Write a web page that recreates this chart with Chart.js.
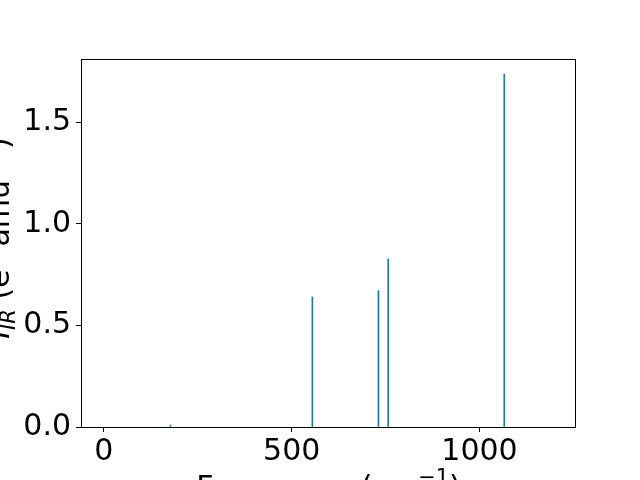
<!DOCTYPE html>
<html>
<head>
<meta charset="utf-8">
<script src="https://cdn.jsdelivr.net/npm/chart.js@4.4.1/dist/chart.umd.min.js"></script>
<style>
  html, body { margin: 0; padding: 0; background: #fff; }
</style>
</head>
<body>
<canvas id="canvas" width="640" height="480"></canvas>
<script>
// IR spectrum sticks
const freqs = [177, 555, 731, 757, 1066]
const intensities = [0.01, 0.64, 0.671, 0.827, 1.737]

const xTicks = [0, 500, 1000]
const yTicks = [0, 0.5, 1.0, 1.5]
const xRange = [-61, 1257]
const yRange = [0, 1.811]

// axis titles as pieces: [text, scale, shift (em), italic]
const xTitle = [['Frequency (cm', 1, 0, false], ['\u22121', 0.7, 0.45, false], [')', 1, 0, false]]
const yTitle = [['I', 1, 0, true], ['IR', 0.7, -0.2, true], [' (e', 1, 0, false], ['2', 0.7, 0.45, false],
  [' amu', 1, 0, false], ['\u22121', 0.7, 0.45, false], [')', 1, 0, false]]

const FONT = 'DejaVu Sans'
const SIZE = 30

function drawPieces(ctx, pieces, size) {
  const fontOf = (p) => (p[3] ? 'italic ' : '') + Math.round(size * p[1]) + 'px "' + FONT + '"'
  let total = 0
  for (const p of pieces) { ctx.font = fontOf(p); total += ctx.measureText(p[0]).width }
  let x = -total / 2
  for (const p of pieces) {
    ctx.font = fontOf(p)
    ctx.fillText(p[0], x, -p[2] * size)
    x += ctx.measureText(p[0]).width
  }
}

const frame = {
  id: 'frame',
  afterDraw(chart) {
    const { ctx, chartArea: a } = chart
    ctx.save()
    ctx.strokeStyle = '#000'
    ctx.lineWidth = 1
    ctx.strokeRect(a.left + 0.5, a.top + 0.5, a.right - a.left - 1, a.bottom - a.top)
    ctx.fillStyle = '#000'
    ctx.textBaseline = 'alphabetic'
    // x title
    ctx.save()
    ctx.translate((a.left + a.right) / 2, 497)
    drawPieces(ctx, xTitle, SIZE)
    ctx.restore()
    // y title
    ctx.save()
    ctx.translate(9, (a.top + a.bottom) / 2 - 5)
    ctx.rotate(-Math.PI / 2)
    drawPieces(ctx, yTitle, SIZE)
    ctx.restore()
    ctx.restore()
  }
}

Chart.defaults.font.family = FONT
Chart.defaults.color = '#000'

new Chart(document.getElementById('canvas'), {
  type: 'bar',
  data: {
    datasets: [{
      data: freqs.map((f, i) => ({ x: f, y: intensities[i] })),
      backgroundColor: '#1f77b4',
      borderWidth: 0,
      barThickness: 1
    }]
  },
  options: {
    responsive: false,
    animation: false,
    layout: { padding: { top: 59, right: 64, left: 0, bottom: 0 } },
    plugins: { legend: { display: false }, tooltip: { enabled: false } },
    scales: {
      x: {
        type: 'linear',
        min: xRange[0],
        max: xRange[1],
        offset: false,
        afterBuildTicks: (s) => { s.ticks = xTicks.map(v => ({ value: v })) },
        afterFit: (s) => { s.height = 53 },
        grid: { display: true, offset: false, drawOnChartArea: false, tickLength: 5, color: '#000', lineWidth: 1 },
        border: { display: false },
        ticks: { font: { size: SIZE }, padding: 2, maxRotation: 0, callback: v => String(v) }
      },
      y: {
        min: yRange[0],
        max: yRange[1],
        afterBuildTicks: (s) => { s.ticks = yTicks.map(v => ({ value: v })) },
        afterFit: (s) => { s.width = 81 },
        grid: { display: true, offset: false, drawOnChartArea: false, tickLength: 5, color: '#000', lineWidth: 1 },
        border: { display: false },
        ticks: { font: { size: SIZE }, padding: 5, callback: v => v.toFixed(1) }
      }
    }
  },
  plugins: [frame]
})
</script>
</body>
</html>
